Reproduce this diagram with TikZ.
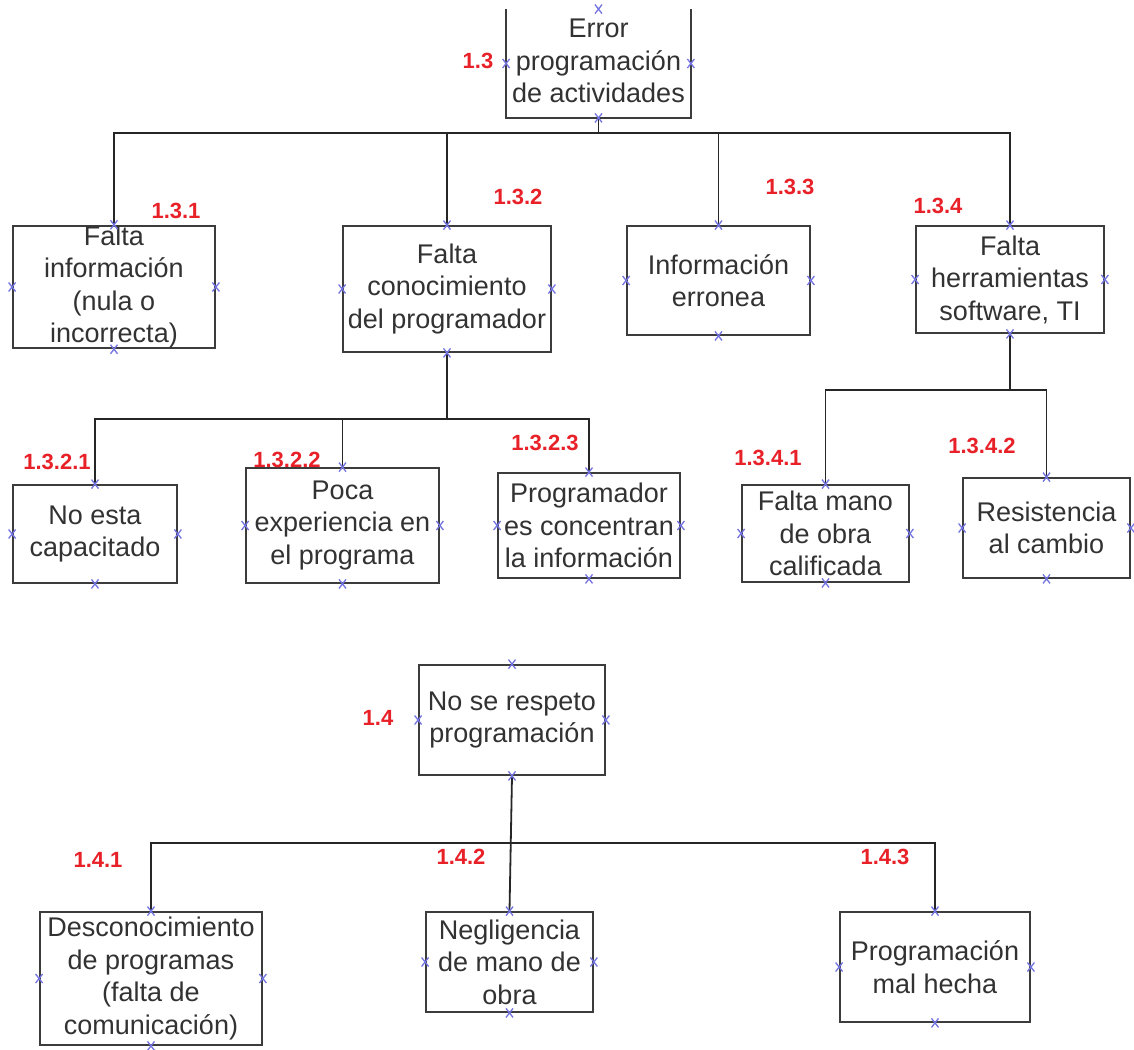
\documentclass[tikz,border=0pt]{standalone}
\usepackage{fontspec}
\setmainfont{Liberation Sans}
\definecolor{boxgray}{RGB}{60,60,60}
\definecolor{txtgray}{RGB}{50,50,50}
\definecolor{codered}{RGB}{232,32,40}
\definecolor{mkblue}{RGB}{115,115,225}
\begin{document}
\begin{tikzpicture}[x=1pt,y=-1pt,
  box/.style={draw=boxgray, line width=1.8pt, inner sep=0pt, align=center,
    font=\fontsize{27}{32.5}\selectfont, text=txtgray},
  openbox/.style={box, draw=none},
  boxline/.style={draw=boxgray, line width=1.8pt},
  conn/.style={draw=black!85, line width=1.8pt},
  code/.style={inner sep=0pt, text=codered, font=\fontsize{22}{24}\selectfont\bfseries},
  mk/.style={draw=mkblue, line width=1.3pt}]
\useasboundingbox (0,0) rectangle (1134,1049);
\clip (0,0) rectangle (1134,1049);

% ---- branch 1.3 ----
\node[openbox, minimum width=183, minimum height=107] (n13) at (598.5,63.5)
  {\raisebox{4pt}{\begin{tabular}{@{}c@{}}Error\\programación\\de actividades\end{tabular}}};
\draw[boxline] (n13.north west) -- (n13.south west) -- (n13.south east) -- (n13.north east);

\node[box, minimum width=202, minimum height=122] (n131) at (114,287)
  {Falta\\información\\(nula o\\incorrecta)};
\node[box, minimum width=208, minimum height=126] (n132) at (447,289)
  {Falta\\conocimiento\\del programador};
\node[box, minimum width=183, minimum height=109] (n133) at (718.5,280.5)
  {Información\\erronea};
\node[box, minimum width=188, minimum height=107] (n134) at (1010,279.5)
  {Falta\\herramientas\\software, TI};

\node[box, minimum width=164, minimum height=98] (n1321) at (95,534)
  {No esta\\capacitado};
\node[box, minimum width=193, minimum height=115] (n1322) at (342.5,525.5)
  {Poca\\experiencia en\\el programa};
\node[box, minimum width=182, minimum height=105] (n1323) at (589,525.5)
  {Programador\\es concentran\\la información};
\node[box, minimum width=167, minimum height=97] (n1341) at (825.5,533.5)
  {Falta mano\\de obra\\calificada};
\node[box, minimum width=167, minimum height=100] (n1342) at (1046.5,528)
  {Resistencia\\al cambio};

% ---- branch 1.4 ----
\node[box, minimum width=186, minimum height=110] (n14) at (512,720)
  {No se respeto\\programación};
\node[box, minimum width=222, minimum height=133] (n141) at (151,978.5)
  {Desconocimiento\\de programas\\(falta de\\comunicación)};
\node[box, minimum width=167, minimum height=100] (n142) at (509.5,962)
  {Negligencia\\de mano de\\obra};
\node[box, minimum width=190, minimum height=110] (n143) at (935,967)
  {Programación\\mal hecha};

% ---- connectors ----
\coordinate (bus13) at (598.5,133);
\coordinate (bus132) at (447,419);
\coordinate (bus134) at (1010,390);
\coordinate (bus14) at (512,843);

\draw[conn] (n13.south) -- (bus13);
\draw[conn] (n131.north) -- (n131.north |- bus13) -- (n134.north |- bus13) -- (n134.north);
\draw[conn] (n132.north) -- (n132.north |- bus13);
\draw[conn] (n133.north) -- (n133.north |- bus13);

\draw[conn] (n132.south) -- (bus132);
\draw[conn] (n1321.north) -- (n1321.north |- bus132) -- (n1323.north |- bus132) -- (n1323.north);
\draw[conn] (n1322.north) -- (n1322.north |- bus132);

\draw[conn] (n134.south) -- (bus134);
\draw[conn] (n1341.north) -- (n1341.north |- bus134) -- (n1342.north |- bus134) -- (n1342.north);

\draw[conn] (n14.south) -- (n142.north);
\draw[conn] (n141.north) -- (n141.north |- bus14) -- (n143.north |- bus14) -- (n143.north);

% ---- codes ----
\node[code] (c13) at (478,61) {1.3};
\node[code] (c131) at (176,211) {1.3.1};
\node[code] (c132) at (518,197) {1.3.2};
\node[code] (c133) at (790,187) {1.3.3};
\node[code] (c134) at (938,206) {1.3.4};
\node[code] (c1321) at (57,462) {1.3.2.1};
\node[code] (c1322) at (287,460) {1.3.2.2};
\node[code] (c1323) at (545,443) {1.3.2.3};
\node[code] (c1341) at (768,458) {1.3.4.1};
\node[code] (c1342) at (982,446) {1.3.4.2};
\node[code] (c14) at (378,718) {1.4};
\node[code] (c141) at (98,860) {1.4.1};
\node[code] (c142) at (461,857) {1.4.2};
\node[code] (c143) at (885,857) {1.4.3};

% ---- connection point marks ----
\foreach \n in {n13,n131,n132,n133,n134,n1321,n1322,n1323,n1341,n1342,n14,n141,n142,n143}
  \foreach \a in {north,south,east,west}
    \draw[mk] (\n.\a) +(-3.5,-4.5) -- +(3.5,4.5) +(-3.5,4.5) -- +(3.5,-4.5);
\end{tikzpicture}
\end{document}
